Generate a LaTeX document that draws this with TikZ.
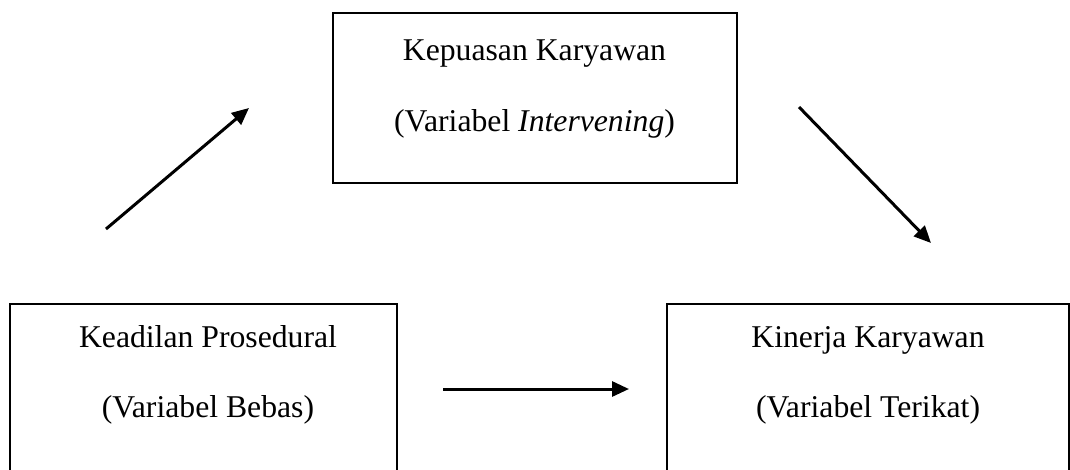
\documentclass[tikz,border=0pt]{standalone}
\usepackage{fontspec}
\setmainfont{Liberation Serif}
\usetikzlibrary{arrows.meta}
\begin{document}
\begin{tikzpicture}[x=1pt,y=-1pt,
  box/.style={draw,line width=1.4pt,rectangle,inner sep=0pt},
  lbl/.style={inner sep=0pt,anchor=base,font=\fontsize{31.7}{38}\selectfont},
  conn/.style={line width=3pt,-{Triangle[length=17pt,width=15pt]}}]
\useasboundingbox (0,0) rectangle (1070,469);
\clip (0,0) rectangle (1070,469);
% boxes
\node[box,minimum width=404pt,minimum height=170pt] (top) at (535,98) {};
\node[box,minimum width=387pt,minimum height=180pt] (left) at (203.5,394) {};
\node[box,minimum width=402pt,minimum height=180pt] (right) at (868,394) {};
% texts
\node[lbl] (top1) at (534.5,60) {Kepuasan Karyawan};
\node[lbl] (top2) at (534.5,131) {(Variabel \textit{Intervening})};
\node[lbl] (left1) at (208,347) {Keadilan Prosedural};
\node[lbl] (left2) at (208,417) {(Variabel Bebas)};
\node[lbl] (right1) at (868,347) {Kinerja Karyawan};
\node[lbl] (right2) at (868,417) {(Variabel Terikat)};
% connector ends
\coordinate (a1) at (106,229);
\coordinate (a2) at (249,108);
\coordinate (b1) at (799,107);
\coordinate (b2) at (931,243);
\coordinate (c1) at (443,389);
\coordinate (c2) at (629,389);
\draw[conn] (a1) -- (a2);
\draw[conn] (b1) -- (b2);
\draw[conn] (c1) -- (c2);
\end{tikzpicture}
\end{document}
